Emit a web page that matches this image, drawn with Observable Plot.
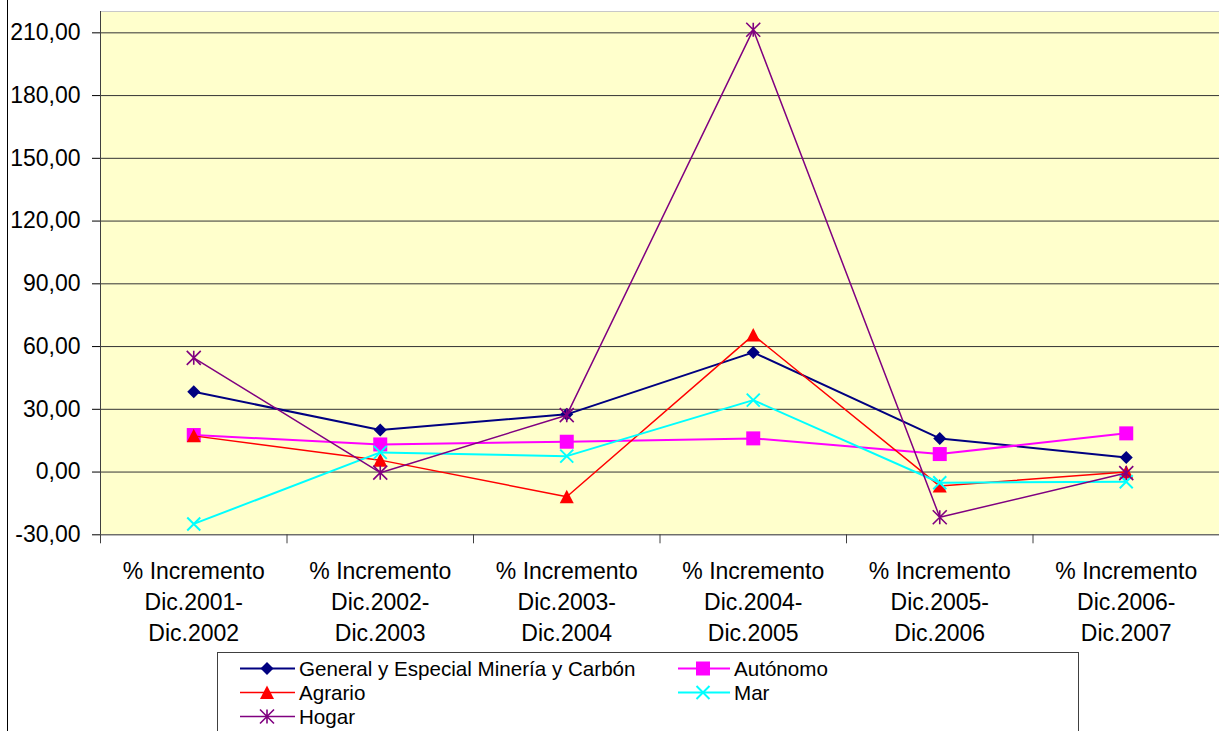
<!DOCTYPE html>
<html><head><meta charset="utf-8">
<script src="https://cdn.jsdelivr.net/npm/d3@7"></script>
<script src="https://cdn.jsdelivr.net/npm/@observablehq/plot@0.6"></script>
<style>
body{margin:0;background:#fff;}
#wrap{position:relative;width:1219px;height:731px;overflow:hidden;font-family:"Liberation Sans",Arial,sans-serif;}
#border{position:absolute;left:7px;top:0;width:1px;height:731px;background:#000;}
#legend{position:absolute;left:217px;top:652px;width:862px;height:100px;border:1px solid #404040;box-sizing:border-box;background:#fff;}
#chart{position:absolute;left:0;top:0;}
</style></head><body>
<div id="wrap"><div id="chart"></div><div id="border"></div><div id="legend"></div></div>
<script>
// ---- data ----
const categoryLine1 = ["% Incremento","% Incremento","% Incremento","% Incremento","% Incremento","% Incremento"];
const categoryLine2 = ["Dic.2001-","Dic.2002-","Dic.2003-","Dic.2004-","Dic.2005-","Dic.2006-"];
const categoryLine3 = ["Dic.2002","Dic.2003","Dic.2004","Dic.2005","Dic.2006","Dic.2007"];
const seriesNames = ["General y Especial Minería y Carbón","Autónomo","Agrario","Mar","Hogar"];
const generalValues  = [38.4, 20.1, 27.6, 57.2, 16.1, 7.0];
const autonomoValues = [17.7, 13.2, 14.5, 16.1, 8.6, 18.5];
const agrarioValues  = [17.3, 5.7, -11.8, 65.5, -6.7, 0.0];
const marValues      = [-24.8, 9.4, 7.6, 34.4, -5.1, -4.6];
const hogarValues    = [54.6, -0.3, 27.2, 211.5, -21.6, -0.5];
const yTicks = [-30, 0, 30, 60, 90, 120, 150, 180, 210];
const yMax = 220.2;

// ---- styles ----
const seriesValues = [generalValues, autonomoValues, agrarioValues, marValues, hogarValues];
const colors = ["#000080", "#FF00FF", "#FF0000", "#00FFFF", "#800080"];
const lineWidths = [2, 2, 1.5, 2, 1.5];

const symDiamond = {draw(c){const h=6.5;c.moveTo(0,-h);c.lineTo(h,0);c.lineTo(0,h);c.lineTo(-h,0);c.closePath();}};
const symSquare = {draw(c){const h=7;c.moveTo(-h,-h);c.lineTo(h,-h);c.lineTo(h,h);c.lineTo(-h,h);c.closePath();}};
const symTriangle = {draw(c){c.moveTo(0,-7);c.lineTo(7,6.5);c.lineTo(-7,6.5);c.closePath();}};
const symTimes = {draw(c){const h=6.5;c.moveTo(-h,-h);c.lineTo(h,h);c.moveTo(-h,h);c.lineTo(h,-h);}};
const symStar = {draw(c){const h=7;c.moveTo(-h,-h);c.lineTo(h,h);c.moveTo(-h,h);c.lineTo(h,-h);c.moveTo(0,-h);c.lineTo(0,h);}};
const symbols = [symDiamond, symSquare, symTriangle, symTimes, symStar];
const filled = [true, true, true, false, false];

const cats = categoryLine1.map((l1, i) => ({x: i + 0.5, l1, l2: categoryLine2[i], l3: categoryLine3[i]}));

const marks = [
  Plot.frame({fill: "#FFFFCC", stroke: "#c8c8c8"}),
  Plot.ruleY(yTicks.filter(d => d > -30), {stroke: "#333", strokeWidth: 1}),
  Plot.ruleX([0], {stroke: "#404040"}),
  Plot.ruleY([-30], {stroke: "#404040"}),
  Plot.axisY({ticks: yTicks, tickSize: 8, tickPadding: 12, tickFormat: d => d.toFixed(2).replace(".", ","), fontSize: 23, fill: "#000", stroke: "#000", label: null}),
  Plot.axisX({ticks: d3.range(0, 7), tickSize: 9, tickFormat: () => "", stroke: "#404040", label: null}),
  Plot.text(cats, {x: "x", text: "l1", frameAnchor: "bottom", dy: 44, fontSize: 23, fill: "#000"}),
  Plot.text(cats, {x: "x", text: "l2", frameAnchor: "bottom", dy: 75, fontSize: 23, fill: "#000"}),
  Plot.text(cats, {x: "x", text: "l3", frameAnchor: "bottom", dy: 106, fontSize: 23, fill: "#000"})
];
seriesNames.forEach((name, k) => {
  const rows = seriesValues[k].map((v, i) => ({x: i + 0.5, value: v, series: name}));
  marks.push(Plot.line(rows, {x: "x", y: "value", stroke: colors[k], strokeWidth: lineWidths[k]}));
  marks.push(Plot.dot(rows, filled[k]
    ? {x: "x", y: "value", symbol: symbols[k], fill: colors[k], stroke: "none", r: 5}
    : {x: "x", y: "value", symbol: symbols[k], fill: "none", stroke: colors[k], strokeWidth: k === 3 ? 2 : 1.6, r: 5}));
});

const chart = Plot.plot({
  width: 1219,
  height: 650,
  marginLeft: 100,
  marginRight: 0,
  marginTop: 11,
  marginBottom: 115.7,
  style: {fontFamily: '"Liberation Sans", Arial, sans-serif', fontSize: "23px", background: "transparent", overflow: "visible"},
  x: {domain: [0, 6], label: null},
  y: {domain: [-30, yMax], label: null},
  marks
});
document.getElementById("chart").appendChild(chart);

// ---- legend ----
const lg = d3.select("#legend").append("svg").attr("width", 860).attr("height", 98)
  .style("font-family", '"Liberation Sans", Arial, sans-serif');
const pos = [[0,0],[1,0],[0,1],[1,1],[0,2]];
const colX = [{x1: 22, x2: 77, m: 49, t: 81}, {x1: 460, x2: 512, m: 485, t: 516}];
seriesNames.forEach((name, k) => {
  const [col, row] = pos[k];
  const cx = colX[col];
  const cy = 15.5 + row * 24;
  lg.append("line").attr("x1", cx.x1).attr("x2", cx.x2).attr("y1", cy).attr("y2", cy)
    .attr("stroke", colors[k]).attr("stroke-width", lineWidths[k]);
  const path = d3.path();
  symbols[k].draw(path);
  lg.append("path").attr("d", path.toString()).attr("transform", `translate(${cx.m},${cy})`)
    .attr("fill", filled[k] ? colors[k] : "none").attr("stroke", filled[k] ? "none" : colors[k])
    .attr("stroke-width", k === 3 ? 2 : 1.6);
  lg.append("text").attr("x", cx.t).attr("y", cy).attr("dy", "0.35em").attr("font-size", "20.6px")
    .attr("fill", "#000").text(name);
});
</script>
</body></html>
